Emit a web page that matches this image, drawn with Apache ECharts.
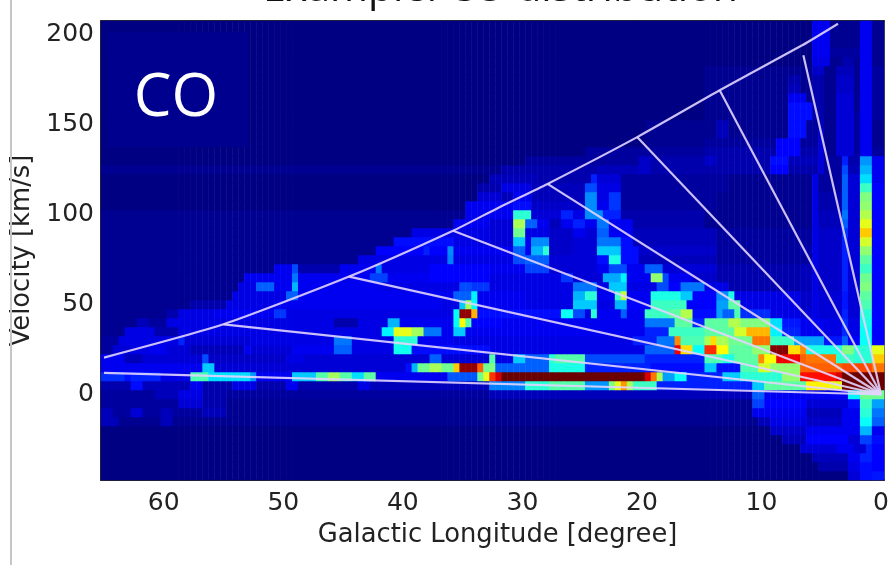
<!DOCTYPE html>
<html><head><meta charset="utf-8">
<script src="https://cdn.jsdelivr.net/npm/echarts@6/dist/echarts.min.js"></script>
<style>html,body{margin:0;background:#fff;overflow:hidden}#c{width:892px;height:565px;filter:blur(.7px)}</style>
</head><body><div id="c"></div>
<script>
// Axis tick labels
const lonTickLabels = [60,50,40,30,20,10,0];
const velTickLabels = [0,50,100,150,200];
// Overlay lines: [longitude, velocity]
const envelopeLon = [65,55,44.5,35.8,32,27.9,20.4,13.5,6.6,3.6];
const envelopeVel = [20.5,39,65.5,91,103.8,117,143,169,194,206];
const spokeLon = [6.5,13.5,20.4,27.9,35.8,44.5,55,65];
const spokeVel = [188.5,169,143,117,91,65.5,39,12];
const sectorNames = ["1","2","3","4","5","6","7"];
const sectorLon = [8.1,14.9,22,29.5,37.6,46,56.6];
const sectorVel = [198,178.5,152.5,128,102,75,50];
// Intensity per velocity row, as runs: [from longitude, to longitude, level 0-100]
const row205=[[65,6,2],[6,4.5,10],[4.5,2,3],[2,1,10],[1,-.5,3]];
const row200=[[65,6,2],[6,4.5,10],[4.5,2,3],[2,1,10],[1,-.5,3]];
const row195=[[65,6,2],[6,4.5,10],[4.5,2,3],[2,1,10],[1,-.5,3]];
const row190=[[65,6,2],[6,4.5,10],[4.5,2,4],[2,1,10],[1,-.5,3]];
const row185=[[65,6,2],[6,4.5,9],[4.5,3.5,3],[3.5,2.5,5],[2.5,2,3],[2,1,10],[1,-.5,3]];
const row180=[[65,15,2],[15,6,3],[6,5,7],[5,4,3],[4,2.5,6],[2.5,2,3],[2,1,10],[1,-.5,4]];
const row175=[[65,15,2],[15,8,3],[8,7,5],[7,6,3],[6,5,5],[5,4,3],[4,2.5,7],[2.5,2,3],[2,1,10],[1,-.5,4]];
const row170=[[65,15,2],[15,8,3],[8,7,6],[7,6,3],[6,5,5],[5,4,3],[4,2.5,7],[2.5,2,3],[2,1,10],[1,-.5,4]];
const row165=[[65,15,2],[15,8,3],[8,6.5,10],[6.5,6,3],[6,5,5],[5,4,3],[4,2.5,8],[2.5,2,3],[2,1,10],[1,-.5,4]];
const row160=[[65,15,2],[15,8,3],[8,6,12],[6,5,5],[5,4,3],[4,2.5,8],[2.5,2,3],[2,1,10],[1,-.5,4]];
const row155=[[65,15,2],[15,8,3],[8,6,12],[6,5,5],[5,4,3],[4,2.5,8],[2.5,2,4],[2,1,10],[1,-.5,4]];
const row150=[[65,20,2],[20,14,3],[14,13,6],[13,8,3],[8,6.5,12],[6.5,5.5,4],[5.5,5,6],[5,4,3],[4,2.5,8],[2.5,2,4],[2,1,10],[1,-.5,3]];
const row145=[[65,20,2],[20,14,3],[14,13,6],[13,8,3],[8,6.5,12],[6.5,5.5,4],[5.5,5,7],[5,4,3],[4,2.5,8],[2.5,2,4],[2,1,10],[1,-.5,3]];
const row140=[[65,20,2],[20,15,3],[15,9,4],[9,7,11],[7,5.5,4],[5.5,5,8],[5,4,3],[4,2.5,8],[2.5,2,4],[2,1,10],[1,-.5,3]];
const row135=[[65,25,2],[25,15,4],[15,9,5],[9,7,11],[7,5.5,5],[5.5,5,8],[5,4,3],[4,2.5,8],[2.5,2,4],[2,1,10],[1,-.5,4]];
const row130=[[65,30,2],[30,20.5,4],[20.5,19.5,7],[19.5,15,5],[15,14,7],[14,9.5,5],[9.5,8,12],[8,5.5,6],[5.5,5,8],[5,3.5,4],[3.5,3,14],[3,2,5],[2,1,25],[1,-.5,10]];
const row125=[[65,32,3],[32,24,5],[24,20.5,6],[20.5,19.5,7],[19.5,13,5],[13,9.5,5],[9.5,8,11],[8,5.5,5],[5.5,5,8],[5,3.5,4],[3.5,3,18],[3,2,6],[2,1,28],[1,-.5,10]];
const row120=[[65,33,2],[33,29,6],[29,24.5,5],[24.5,24,14],[24,22,8],[22,13,4],[13,6,3],[6,5.5,9],[5.5,3.5,4],[3.5,3,20],[3,2,8],[2,1,32],[1,-.5,10]];
const row115=[[65,34,2],[34,32,5],[32,29.5,9],[29.5,25,6],[25,24,18],[24,22,9],[22,13,4],[13,6,3],[6,5.5,9],[5.5,3.5,4],[3.5,3,20],[3,2,8],[2,1,42],[1,-.5,11]];
const row110=[[65,34,2],[34,32,8],[32,31,6],[31,29.5,10],[29.5,25,6],[25,24,24],[24,23,9],[23,22,16],[22,14,4],[14,6,3],[6,5.5,9],[5.5,3.5,5],[3.5,3,20],[3,2,8],[2,1,50],[1,-.5,11]];
const row105=[[65,35,2],[35,31,10],[31,29.5,12],[29.5,25,7],[25,24,24],[24,23,10],[23,22,16],[22,14,4],[14,6,3],[6,5.5,9],[5.5,3.5,5],[3.5,3,20],[3,2,8],[2,1,52],[1,-.5,11]];
const row100=[[65,35,3],[35,31,10],[31,29.5,40],[29.5,27,8],[27,26,14],[26,25,9],[25,23.5,24],[23.5,22,14],[22,15,5],[15,6,3],[6,5.5,9],[5.5,3.5,6],[3.5,3,22],[3,2,8],[2,1,56],[1,-.5,11]];
const row95=[[65,36,3],[36,33,10],[33,31,8],[31,30,55],[30,29,20],[29,28,10],[28,27,6],[27,26,10],[26,25,14],[25,24,10],[24,23,22],[23,21,10],[21,15,5],[15,6,3],[6,5.5,9],[5.5,3.5,6],[3.5,3,20],[3,2,8],[2,1,62],[1,-.5,11]];
const row90=[[65,39.5,3],[39.5,33,9],[33,31,8],[31,30,48],[30,28,9],[28,26,7],[26,25,10],[25,24,8],[24,23,20],[23,21,10],[21,14,6],[14,6,4],[6,5.5,9],[5.5,3.5,7],[3.5,3,16],[3,2,8],[2,1,70],[1,-.5,11]];
const row85=[[65,41,3],[41,36,12],[36,33,9],[33,31,8],[31,30,30],[30,29.5,10],[29.5,28,24],[28,26,7],[26,24,8],[24,22,22],[22,21,12],[21,14,6],[14,6,4],[6,5.5,9],[5.5,3.5,7],[3.5,3,14],[3,2,8],[2,1,60],[1,-.5,11]];
const row80=[[65,42.5,3],[42.5,38.5,11],[38.5,38,14],[38,36.5,11],[36.5,36,24],[36,31,10],[31,30,20],[30,29.5,10],[29.5,28.5,28],[28.5,28,40],[28,26,7],[26,24,8],[24,22,30],[22,20.5,12],[20.5,14,7],[14,7,4],[7,6,5],[6,5.5,9],[5.5,3.5,7],[3.5,3,14],[3,2,8],[2,1,52],[1,-.5,11]];
const row75=[[65,44,3],[44,36.5,9],[36.5,36,23],[36,31,9],[31,30,18],[30,28,20],[28,24,8],[24,23,12],[23,22,38],[22,20.5,12],[20.5,14,6],[14,6,4],[6,5.5,9],[5.5,3.5,7],[3.5,3,14],[3,2,8],[2,1,46],[1,-.5,11]];
const row70=[[65,51,3],[51,49.5,10],[49.5,49,18],[49,45.5,5],[45.5,42.5,10],[42.5,42,22],[42,38,9],[38,33,11],[33,30,10],[30,28,17],[28,24,8],[24,23,10],[23,21.5,18],[21.5,20,10],[20,18.5,20],[18.5,14,8],[14,7,5],[7,6,6],[6,5.5,9],[5.5,3.5,7],[3.5,3,14],[3,2,8],[2,1,42],[1,-.5,11]];
const row65=[[65,53.5,3],[53.5,49.5,10],[49.5,49,22],[49,43,10],[43,41.5,17],[41.5,38,10],[38,33,11],[33,27,9],[27,26,16],[26,23.5,8],[23.5,22,27],[22,21.5,34],[21.5,19.5,10],[19.5,18.5,52],[18.5,18,18],[18,16,10],[16,14,7],[14,7,5],[7,6,6],[6,5.5,9],[5.5,3.5,7],[3.5,3,14],[3,2,8],[2,1,48],[1,-.5,11]];
const row60=[[65,54,3],[54,52.5,9],[52.5,51,20],[51,49.5,10],[49.5,49,28],[49,42,10],[42,35.5,9],[35.5,34.5,18],[34.5,33,16],[33,26,9],[26,24,22],[24,23,9],[23,21.5,30],[21.5,19,9],[19,18,18],[18,17,11],[17,15,22],[15,13,9],[13,7,5],[7,6,6],[6,5.5,9],[5.5,3.5,7],[3.5,3,14],[3,2,8],[2,1,50],[1,-.5,11]];
const row55=[[65,54.5,3],[54.5,50,9],[50,49,20],[49,36,10],[36,34.5,20],[34.5,34,34],[34,30,10],[30,26,9],[26,25,28],[25,24,40],[24,22.5,10],[22.5,22,42],[22,21.5,58],[21.5,19.5,10],[19.5,17,38],[17,16,30],[16,14,11],[14,13,24],[13,12.5,38],[12.5,7,9],[7,6,7],[6,5.5,9],[5.5,3.5,8],[3.5,3,13],[3,2,8],[2,1,46],[1,-.5,11]];
const row50=[[65,58,3],[58,55,5],[55,51,9],[51,37,10],[37,35.5,9],[35.5,35,30],[35,34.5,55],[34.5,34,35],[34,30,10],[30,26,9],[26,24,30],[24,22.5,9],[22.5,21.5,28],[21.5,19.5,11],[19.5,16.5,42],[16.5,14,11],[14,13,26],[13,12,46],[12,7,9],[7,6,7],[6,5.5,9],[5.5,3.5,8],[3.5,3,13],[3,2,8],[2,1,44],[1,-.5,11]];
const row45=[[65,60,3],[60,59,5],[59,56,9],[56,51,10],[51,50,16],[50,36,9],[36,35.5,35],[35.5,34.5,97],[34.5,34,72],[34,27,12],[27,26,36],[26,25,18],[25,24.5,9],[24.5,24,40],[24,22,10],[22,21.5,20],[21.5,20,10],[20,18,42],[18,17,46],[17,16,56],[16,14,12],[14,13.5,26],[13.5,12.5,20],[12.5,12,44],[12,9.5,15],[9.5,7,9],[7,6,8],[6,5.5,9],[5.5,3.5,8],[3.5,3,14],[3,2,8],[2,1,40],[1,-.5,11]];
const row40=[[65,62.5,3],[62.5,61.5,6],[61.5,60,4],[60,54,9],[54,46,9],[46,44,5],[44,41.5,9],[41.5,40.5,28],[40.5,36,10],[36,35.5,35],[35.5,35,65],[35,34.5,45],[34.5,32,11],[32,20,10],[20,17.5,22],[17.5,16,46],[16,15,14],[15,13,46],[13,12,56],[12,9.5,50],[9.5,8.5,32],[8.5,7,13],[7,5,10],[5,3.5,9],[3.5,3,15],[3,2,9],[2,1,38],[1,-.5,11]];
const row35=[[65,63.5,3],[63.5,61,9],[61,59,5],[59,55,9],[55,42,9],[42,41,34],[41,39.5,62],[39.5,38.5,54],[38.5,37,22],[37,36,10],[36,35,30],[35,20,10],[20,18,14],[18,15,42],[15,12.5,46],[12.5,11.5,60],[11.5,9.5,72],[9.5,8.5,34],[8.5,7,14],[7,5,10],[5,3.5,9],[3.5,3,15],[3,2,9],[2,1,36],[1,-.5,11]];
const row30=[[65,64,4],[64,59,9],[59,58.5,14],[58.5,53,8],[53,52.5,9],[52.5,46,9],[46,44.5,22],[44.5,41,9],[41,39,40],[39,36,10],[36,21,9],[21,19,14],[19,17.5,22],[17.5,17,76],[17,15,44],[15,14.5,55],[14.5,14,68],[14,13,55],[13,11,48],[11,9.5,78],[9.5,7.5,42],[7.5,5,26],[5,3.5,13],[3.5,3,20],[3,2,11],[2,1,36],[1,-.5,11]];
const row25=[[65,64.5,4],[64.5,63,8],[63,61.5,9],[61.5,60,10],[60,58,8],[58,53.5,6],[53.5,53,10],[53,49.5,8],[49.5,46,10],[46,44.5,20],[44.5,41,9],[41,39.5,37],[39.5,33,12],[33,20,9],[20,17.5,20],[17.5,17,90],[17,16,68],[16,15,35],[15,14,85],[14,13,65],[13,11,46],[11,9.5,52],[9.5,8,98],[8,7,68],[7,6.5,76],[6.5,3.5,38],[3.5,2.5,50],[2.5,1,40],[1,-.5,62]];
const row20=[[65,63.5,10],[63.5,62,6],[62,57,8],[57,56.5,18],[56.5,50,7],[50,48.5,9],[48.5,38,8],[38,37,20],[37,33,8],[33,32.5,45],[32.5,31,9],[31,30,30],[30,28,20],[28,27.5,40],[27.5,25,45],[25,20,18],[20,15,14],[15,13.5,44],[13.5,12.5,38],[12.5,10.5,46],[10.5,10,76],[10,9,65],[9,7,90],[7,6.5,80],[6.5,4,78],[4,3.5,40],[3.5,2.5,42],[2.5,1,40],[1,-.5,70]];
const row15=[[65,57,10],[57,56,30],[56,40,8],[40,39.5,12],[39.5,39,28],[39,38,48],[38,37,55],[37,36,48],[36,35.5,70],[35.5,34,97],[34,33.5,80],[33.5,33,48],[33,32.5,50],[32.5,31.5,20],[31.5,28,20],[28,25,38],[25,19.5,14],[19.5,15,12],[15,14,30],[14,12,12],[12,10.5,44],[10.5,9.5,60],[9.5,7,52],[7,3.5,80],[3.5,1,82],[1,-.5,78]];
const row10=[[65,63.5,15],[63.5,63,12],[63,60.5,14],[60.5,58,9],[58,56.5,44],[56.5,53,32],[53,52.5,25],[52.5,49.5,10],[49.5,47.5,30],[47.5,46.5,45],[46.5,45.5,54],[45.5,44.5,45],[44.5,43.5,32],[43.5,42.5,46],[42.5,36.5,10],[36.5,34,19],[34,33.5,48],[33.5,33,62],[33,32.5,84],[32.5,32,92],[32,20,100],[20,19.5,92],[19.5,19,78],[19,18.5,55],[18.5,17.5,26],[17.5,16.5,36],[16.5,13.5,14],[13.5,12,30],[12,8.5,40],[8.5,7,52],[7,4,88],[4,3.5,92],[3.5,-.5,100]];
const row5=[[65,63,5],[63,62,12],[62,58,6],[58,57,10],[57,54.5,5],[54.5,52.5,9],[52.5,50,5],[50,49,10],[49,44,5],[44,43,9],[43,33,6],[33,30,23],[30,28,40],[28,25,45],[25,23,25],[23,22.5,50],[22.5,22,62],[22,21.5,75],[21.5,21,55],[21,19,42],[19,11,14],[11,10,30],[10,6.5,46],[6.5,4.5,66],[4.5,3.5,62],[3.5,-.5,100]];
const row0=[[65,61,4],[61,59,6],[59,57,9],[57,55,5],[55,44,4],[44,33,4],[33,11,6],[11,10,20],[10,3,10],[3,2,34],[2,-.5,48]];
const rowM5=[[65,62,4],[62,59,4],[59,57,8],[57,55,5],[55,30,3],[30,11,3],[11,10,17],[10,6.5,11],[6.5,3,8],[3,2,12],[2,1,42],[1,-.5,26]];
const rowM10=[[65,64.5,6],[64.5,63,4],[63,62,8],[62,60.5,4],[60.5,59.5,6],[59.5,57,4],[57,55,6],[55,11,3],[11,6.5,10],[6.5,3.5,6],[3.5,2,10],[2,1,40],[1,-.5,22]];
const rowM15=[[65,64,6],[64,60.5,3],[60.5,59.5,6],[59.5,10.5,3],[10.5,9.5,6],[9.5,6.5,9],[6.5,3.5,7],[3.5,2,10],[2,1,36],[1,-.5,20]];
const rowM20=[[65,9.5,2],[9.5,6.5,7],[6.5,3.5,10],[3.5,2,10],[2,1,28],[1,-.5,10]];
const rowM25=[[65,8.5,2],[8.5,6.5,6],[6.5,3,11],[3,2,8],[2,1,17],[1,-.5,12]];
const rowM30=[[65,7,2],[7,4,8],[4,2.5,10],[2.5,1.5,8],[1.5,1,14],[1,-.5,11]];
const rowM35=[[65,6,2],[6,3,6],[3,2,10],[2,1,14],[1,-.5,11]];
const rowM40=[[65,5.5,2],[5.5,3,5],[3,2,9],[2,1,12],[1,-.5,11]];
const rowM45=[[65,3,2],[3,2,8],[2,1,12],[1,-.5,13]];
const velocityRows=[rowM45,rowM40,rowM35,rowM30,rowM25,rowM20,rowM15,rowM10,rowM5,row0,row5,row10,row15,row20,row25,row30,row35,row40,row45,row50,row55,row60,row65,row70,row75,row80,row85,row90,row95,row100,row105,row110,row115,row120,row125,row130,row135,row140,row145,row150,row155,row160,row165,row170,row175,row180,row185,row190,row195,row200,row205];

const lonBins=[]; for(let l=65;l>=0;l-=.5) lonBins.push(String(l));
const velBins=velocityRows.map((_,i)=>String(-45+5*i));
const cells=[];
velocityRows.forEach((runs,j)=>{
  lonBins.forEach((l,i)=>{
    const lon=+l; let val=2;
    runs.forEach(r=>{ if(lon<r[0]&&lon>=r[1]) val=r[2]; });
    if(lon===65) val=runs[0][2];
    cells.push([i,j,val]);
  });
});
const jetStops=[[0,[0,0,104]],[11,[0,0,255]],[23,[0,128,255]],[35,[0,255,255]],[50,[128,255,128]],[65,[255,255,0]],[77,[255,128,0]],[89,[255,0,0]],[100,[106,0,0]]];
const jet=[];
for(let p=0;p<=100;p++){
  let k=0; while(k<jetStops.length-2&&p>jetStops[k+1][0])k++;
  const a=jetStops[k],b=jetStops[k+1],t=(p-a[0])/(b[0]-a[0]);
  jet.push('rgb('+a[1].map((c,n)=>Math.round(c+(b[1][n]-c)*t)).join(',')+')');
}
const lineColor='rgba(226,212,255,0.9)';
const lineBase={type:'line',xAxisIndex:1,yAxisIndex:1,showSymbol:false,symbol:'none',silent:true,z:5,lineStyle:{color:lineColor,width:2.2},animation:false};
const tickFont='"DejaVu Sans"';
const chart=echarts.init(document.getElementById('c'),null,{renderer:'canvas'});
chart.setOption({
  animation:false,
  backgroundColor:'#fff',
  title:{text:'Example: CO distribution',left:258,top:-36,textStyle:{fontFamily:'"Open Sans"',fontWeight:'normal',fontSize:41,color:'#111'}},
  grid:{left:101,top:21,width:786,height:459,containLabel:false},
  visualMap:{show:false,type:'continuous',min:0,max:100,seriesIndex:0,inRange:{color:jet}},
  xAxis:[
    {type:'category',data:lonBins,position:'bottom',boundaryGap:true,
     name:'Galactic Longitude [degree]',nameLocation:'middle',nameGap:42,
     nameTextStyle:{fontFamily:tickFont,fontSize:25.8,color:'#222',padding:[0,0,0,10]},
     axisLine:{show:true,onZero:false,lineStyle:{color:'#2a2a2a',width:2}},
     splitLine:{show:false},
     axisTick:{show:true,inside:true,length:5,alignWithLabel:true,lineStyle:{color:'#111',width:1},interval:(i,v)=>lonTickLabels.includes(+v)},
     axisLabel:{show:true,margin:11,fontFamily:tickFont,fontSize:25,color:'#222',interval:(i,v)=>lonTickLabels.includes(+v)}},
    {type:'value',position:'top',inverse:true,min:-0.25,max:65.25,
     axisLine:{show:true,onZero:false,lineStyle:{color:'#2a2a2a',width:2}},
     axisLabel:{show:false},splitLine:{show:false},
     axisTick:{show:true,inside:true,length:5,lineStyle:{color:'#111'},customValues:lonTickLabels}}
  ],
  yAxis:[
    {type:'category',data:velBins,position:'left',boundaryGap:true,
     name:'Velocity [km/s]',nameLocation:'middle',nameGap:66,nameRotate:90,
     nameTextStyle:{fontFamily:tickFont,fontSize:25.8,color:'#222'},
     axisLine:{show:true,onZero:false,lineStyle:{color:'#2a2a2a',width:2}},
     splitLine:{show:false},
     axisTick:{show:true,inside:true,length:5,alignWithLabel:true,lineStyle:{color:'#111'},interval:(i,v)=>velTickLabels.includes(+v)},
     axisLabel:{show:true,margin:7,fontFamily:tickFont,fontSize:25,color:'#222',interval:(i,v)=>velTickLabels.includes(+v)}},
    {type:'value',position:'right',min:-47.5,max:207.5,
     axisLine:{show:true,onZero:false,lineStyle:{color:'#555',width:1}},
     axisLabel:{show:false},splitLine:{show:false},
     axisTick:{show:true,inside:true,length:4,lineStyle:{color:'#111'},customValues:velTickLabels}}
  ],
  series:[
    {type:'heatmap',data:cells,xAxisIndex:0,yAxisIndex:0,progressive:0,silent:true,itemStyle:{borderWidth:0},emphasis:{disabled:true}},
    Object.assign({},lineBase,{name:'envelope',data:envelopeLon.map((l,i)=>[l,envelopeVel[i]]),smooth:0.2}),
    ...spokeLon.map((l,i)=>Object.assign({},lineBase,{name:'spoke'+i,data:[[0,0],[l,spokeVel[i]]]})),
    {type:'scatter',xAxisIndex:1,yAxisIndex:1,symbolSize:1,itemStyle:{opacity:0},silent:true,z:6,
     data:sectorNames.map((n,i)=>({value:[sectorLon[i],sectorVel[i]],name:n})),
     label:{show:true,position:'inside',formatter:p=>p.name,fontFamily:tickFont,fontSize:15,color:'#bdb5e0'}}
  ],
  graphic:[
    {type:'rect',silent:true,z:20,shape:{x:10,y:0,width:2,height:565},style:{fill:'#c6c6c6'}},
    {type:'rect',silent:true,z:20,shape:{x:107,y:32,width:141,height:115},style:{fill:'#00008e'}},
    {type:'text',silent:true,z:21,style:{x:176,y:99,text:'CO',align:'center',verticalAlign:'middle',fill:'#fff',font:'60px "Open Sans"'}}
  ]
});
</script></body></html>
